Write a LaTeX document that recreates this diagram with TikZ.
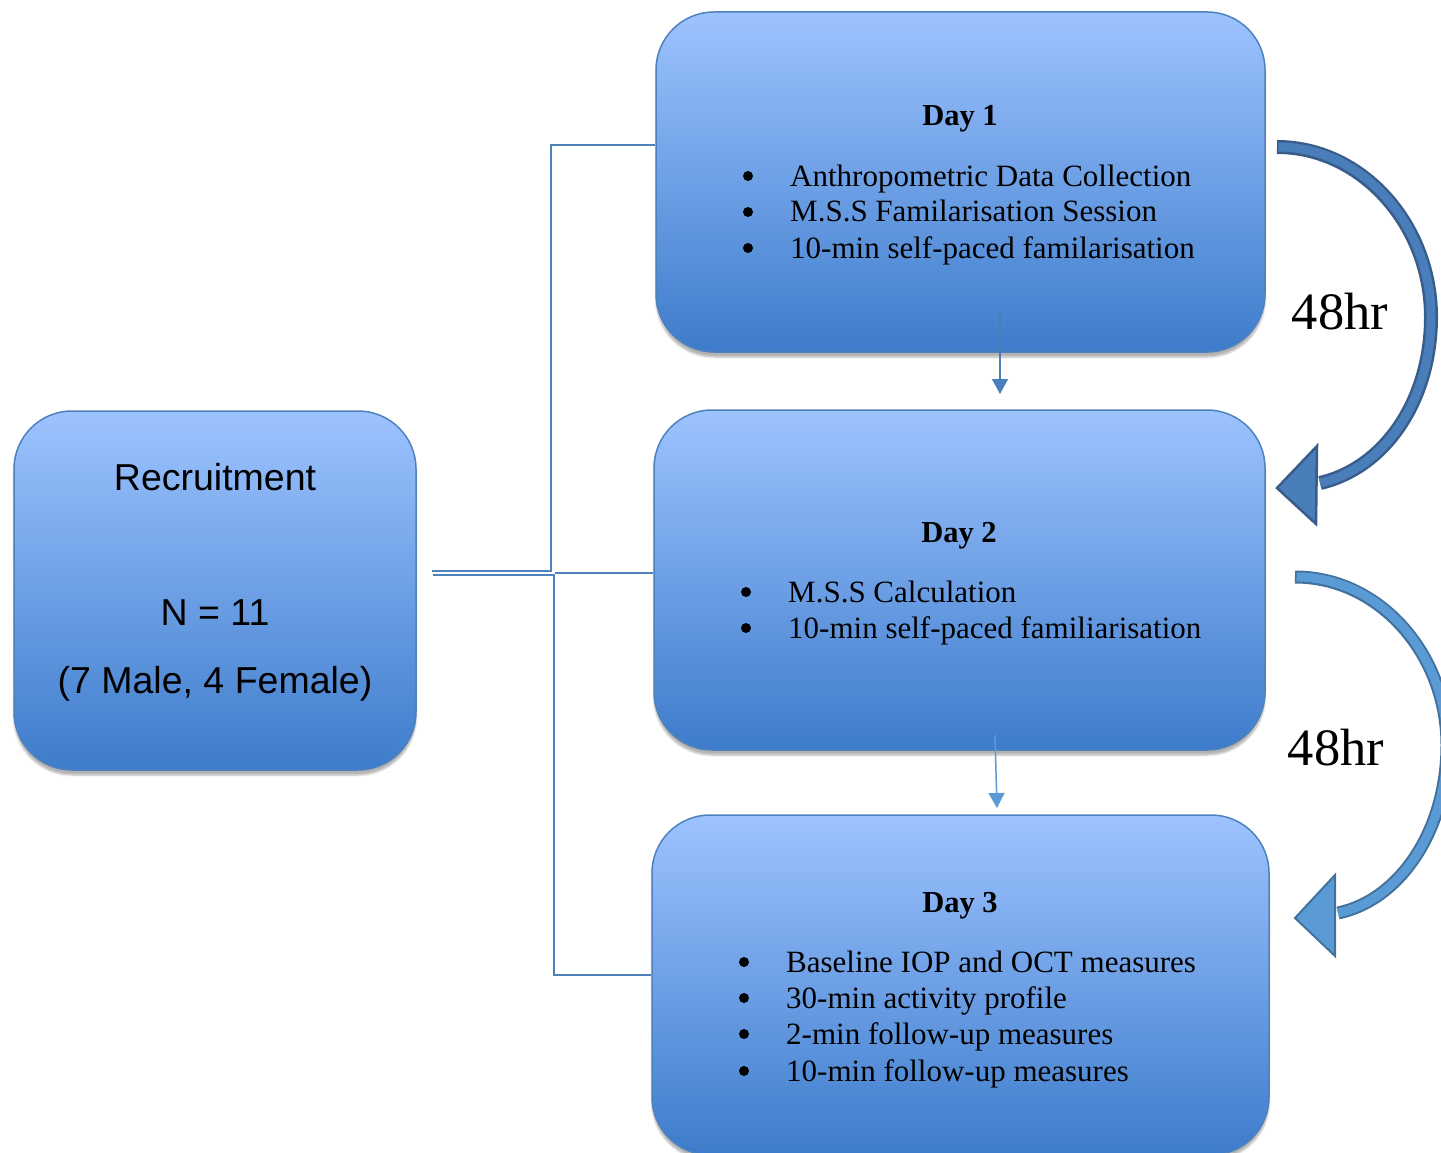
\documentclass[tikz,border=0pt]{standalone}
\usepackage{fontspec}
\setmainfont{Liberation Serif}
\newfontfamily\arialf{Liberation Sans}
\usetikzlibrary{arrows.meta,shadows.blur}
\definecolor{boxtop}{HTML}{9DC3FF}
\definecolor{boxbot}{HTML}{3D7CCB}
\definecolor{boxline}{HTML}{4F81BD}
\definecolor{conncol}{HTML}{4F81BD}
\definecolor{arrAfill}{HTML}{4A7EBB}
\definecolor{arrAline}{HTML}{385D8A}
\definecolor{arrBfill}{HTML}{5B9BD5}
\definecolor{arrBline}{HTML}{41719C}
\begin{document}
\begin{tikzpicture}[x=1pt,y=-1pt,
  box/.style={rectangle, rounded corners=58pt, draw=boxline, line width=1.5pt,
    top color=boxtop, bottom color=boxbot, inner sep=0pt,
    blur shadow={shadow xshift=0pt, shadow yshift=-5pt, shadow opacity=30, shadow blur steps=6}},
  txt/.style={inner sep=0pt, anchor=base west, text height=21pt, text depth=7pt, font=\fontsize{31}{36}\selectfont},
  head/.style={inner sep=0pt, anchor=base, font=\fontsize{30.5}{36}\selectfont\bfseries},
  rtxt/.style={inner sep=0pt, anchor=base, font=\arialf\fontsize{37.5}{42}\selectfont},
  hrs/.style={inner sep=0pt, anchor=base, font=\fontsize{52.5}{60}\selectfont},
  bulletdot/.style={fill=black},
  conn/.style={draw=conncol, line width=2pt},
  smallarrA/.style={draw=arrAfill, line width=1.5pt, -{Triangle[width=16pt,length=15pt]}},
  smallarrB/.style={draw=arrBfill, line width=1.5pt, -{Triangle[width=16pt,length=15pt]}}]
\useasboundingbox (0,0) rectangle (1441,1153);
\clip (0,0) rectangle (1441,1153);

% boxes
\node[box, minimum width=402pt, minimum height=359pt] (rec) at (215,590.5) {};
\node[box, minimum width=609pt, minimum height=340pt] (d1) at (960.5,182) {};
\node[box, minimum width=611pt, minimum height=340pt] (d2) at (959.5,580) {};
\node[box, minimum width=617pt, minimum height=340pt] (d3) at (960.5,985) {};

% recruitment text
\node[rtxt] (rt1) at (215,490) {Recruitment};
\node[rtxt] (rt2) at (215,625) {N = 11};
\node[rtxt] (rt3) at (215,693) {(7 Male, 4 Female)};

% Day 1
\node[head] (h1) at (960,126) {Day 1};
\node[txt] (b11) at (790,186) {Anthropometric Data Collection};
\node[txt] (b12) at (790,222) {M.S.S Familarisation Session};
\node[txt] (b13) at (790,258) {10-min self-paced familarisation};
\foreach \yy in {176,212,248} \fill[bulletdot] (748,\yy) circle (5);

% Day 2
\node[head] (h2) at (959,542) {Day 2};
\node[txt] (b21) at (788,602) {M.S.S Calculation};
\node[txt] (b22) at (788,638) {10-min self-paced familiarisation};
\foreach \yy in {592,628} \fill[bulletdot] (746,\yy) circle (5);

% Day 3
\node[head] (h3) at (960,912) {Day 3};
\node[txt] (b31) at (786,972) {Baseline IOP and OCT measures};
\node[txt] (b32) at (786,1008) {30-min activity profile};
\node[txt] (b33) at (786,1044) {2-min follow-up measures};
\node[txt] (b34) at (786,1081) {10-min follow-up measures};
\foreach \yy in {962,998,1034,1071} \fill[bulletdot] (744,\yy) circle (5);

% elbow connectors
\coordinate (ra) at (432,571);
\coordinate (rb) at (433,575);
\coordinate (rc) at (555,573);
\coordinate (d1in) at (d1.west |- 0,145);
\coordinate (d2in) at (d2.west |- 0,573);
\coordinate (d3in) at (d3.west |- 0,975);
\draw[conn] (ra) -- (551,571) -- (551,145) -- (d1in);
\draw[conn] (rb) -- (554,575) -- (554,975) -- (d3in);
\draw[conn] (rc) -- (d2in);

% small arrows between days
\coordinate (s1a) at (1000,312);
\coordinate (s1b) at (1000,394);
\coordinate (s2a) at (995,735);
\coordinate (s2b) at (997,808);
\draw[smallarrA] (s1a) -- (s1b);
\draw[smallarrB] (s2a) -- (s2b);

% curved arrow 1 (Day1 -> Day2)
\coordinate (c1s) at (1277,147);
\coordinate (c1e) at (1320,483);
\coordinate (t1tip) at (1277,488);
\coordinate (t1up) at (1317,446);
\coordinate (t1lo) at (1316,524);
\draw[arrAline, line width=14pt] (c1s) .. controls (1362,147) and (1431,225) .. (1431,317)
   .. controls (1431,400) and (1385,468) .. (c1e);
\draw[arrAfill, line width=9pt] ([xshift=1.5pt]c1s) .. controls (1362,147) and (1431,225) .. (1431,317)
   .. controls (1431,400) and (1385,468) .. (c1e);
\draw[arrAline, fill=arrAfill, line width=2.5pt, line join=miter] (t1tip) -- (t1up) -- (t1lo) -- cycle;
\node[hrs] (l1) at (1340,329) {48hr};

% curved arrow 2 (Day2 -> Day3)
\coordinate (c2s) at (1295,577);
\coordinate (c2e) at (1338,913);
\coordinate (t2tip) at (1295,918);
\coordinate (t2up) at (1335,875);
\coordinate (t2lo) at (1335,956);
\draw[arrBline, line width=13pt] (c2s) .. controls (1380,577) and (1447,655) .. (1447,745)
   .. controls (1447,830) and (1400,900) .. (c2e);
\draw[arrBfill, line width=9pt] ([xshift=1.5pt]c2s) .. controls (1380,577) and (1447,655) .. (1447,745)
   .. controls (1447,830) and (1400,900) .. (c2e);
\draw[arrBline, fill=arrBfill, line width=2pt, line join=miter] (t2tip) -- (t2up) -- (t2lo) -- cycle;
\node[hrs] (l2) at (1336,765) {48hr};
\end{tikzpicture}
\end{document}
